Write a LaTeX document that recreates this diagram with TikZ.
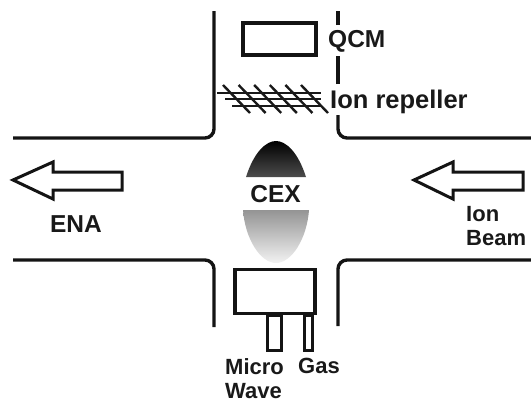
\documentclass[tikz,border=0pt]{standalone}
\usepackage{fontspec}
\setmainfont{Liberation Sans}
\usetikzlibrary{positioning}
\begin{document}
\begin{tikzpicture}[x=1pt, y=-1pt,
  wall/.style={line width=3.4pt, rounded corners=9pt, black!92},
  box/.style={rectangle, draw, line width=3.2pt, black!92, inner sep=0pt},
  mesh/.style={line width=2.4pt, black!90},
  beamarrow/.style={draw, line width=3pt, black!92, fill=white, miter limit=10},
  lbl/.style={font=\fontsize{22}{24}\selectfont\bfseries, inner sep=0pt, align=left, text=black!90},
  biglbl/.style={lbl, font=\fontsize{24.5}{26}\selectfont\bfseries}]
\useasboundingbox (0,0) rectangle (531,402);
% chamber walls
\draw[wall] (13,138) -- (214,138) -- (214,11);
\draw[wall] (531,138) -- (338,138) -- (338,115);
\draw[wall] (338,84) -- (338,56);
\draw[wall] (338,25) -- (338,11);
\draw[wall] (13,260) -- (214,260) -- (214,327);
\draw[wall] (531,260) -- (338,260) -- (338,326);
% top side
\node[box, minimum width=73pt, minimum height=32pt] (qcm) at (279.5,39) {};
\node[biglbl, anchor=west] (qcmlbl) at (328,41) {QCM};
\draw[mesh] (217,93) -- (321,93);
\draw[mesh] (225,99) -- (321,99);
\draw[mesh] (232,106) -- (321,106);
\foreach \i in {0,...,5}
  \draw[mesh] (223+15.6*\i,85) -- (250+15.6*\i,113);
\node[biglbl, font=\fontsize{25.5}{26}\selectfont\bfseries, anchor=west] (rep) at (330,102) {Ion repeller};
% plasma
\shade[top color=black, bottom color=black!70] (246,177) .. controls (254,152) and (266,141) .. (276,141) .. controls (286,141) and (298,152) .. (306,177) -- cycle;
\shade[top color=black!42, bottom color=black!5] (243,210) -- (309,210) .. controls (307,238) and (292,263) .. (276,263) .. controls (260,263) and (245,238) .. (243,210) -- cycle;
\node[biglbl] (cex) at (275.5,194) {CEX};
% bottom side
\node[box, minimum width=80pt, minimum height=44pt] (src) at (275,291.5) {};
\node[box, minimum width=14pt, minimum height=35pt, anchor=north] (mw) at (274.5,314) {};
\node[box, minimum width=8pt, minimum height=35pt, anchor=north] (gas) at (308.5,314) {};
\node[lbl, anchor=north west] (mwlbl) at (225,358) {Micro\\Wave};
\node[lbl, anchor=north west] (gaslbl) at (298,358) {Gas};
% beams
\draw[beamarrow] (13,180) -- (53,162) -- (53,172) -- (122,172) -- (122,190) -- (53,190) -- (53,199) -- cycle;
\draw[beamarrow] (414,180) -- (453,162) -- (453,172) -- (523,172) -- (523,190) -- (453,190) -- (453,199) -- cycle;
\node[biglbl] (ena) at (76,224) {ENA};
\node[lbl, anchor=north west] (ion) at (466,206) {Ion\\Beam};
\end{tikzpicture}
\end{document}
